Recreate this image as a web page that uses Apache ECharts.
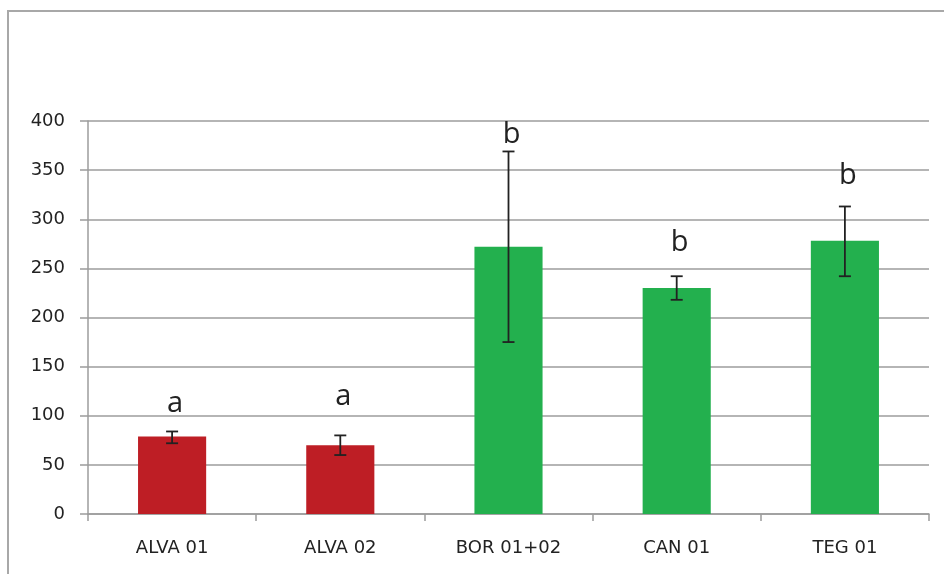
<!DOCTYPE html>
<html><head><meta charset="utf-8">
<script src="https://cdn.jsdelivr.net/npm/echarts@6/dist/echarts.min.js"></script>
<style>html,body{margin:0;padding:0;background:#fff;overflow:hidden}#c{width:944px;height:574px}</style>
</head><body><div id="c"></div>
<script>
const categories = ['ALVA 01','ALVA 02','BOR 01+02','CAN 01','TEG 01'];
const means = [79, 70, 272, 230, 278];
const errLow = [72, 60, 175, 218, 242];
const errHigh = [84, 80, 369, 242, 313];
const letters = ['a','a','b','b','b'];
const letterY = [112, 119, 386, 276, 344];
const yTicks = [0,50,100,150,200,250,300,350,400];
const barColors = ['#be1e25','#be1e25','#23b04e','#23b04e','#23b04e'];

const chart = echarts.init(document.getElementById('c'));
chart.setOption({
  animation:false,
  backgroundColor:'#fff',
  graphic:[{type:'polyline',shape:{points:[[8,574],[8,11],[944,11]]},style:{fill:'none',stroke:'#a8a8a8',lineWidth:2},z:-1}],
  grid:{left:88,right:15,top:121,bottom:60,containLabel:false},
  xAxis:{type:'category',data:categories,
    axisLine:{lineStyle:{color:'#9c9c9c',width:1.5}},
    axisTick:{show:true,alignWithLabel:false,length:7,lineStyle:{color:'#9c9c9c',width:1.5}},
    axisLabel:{color:'#222',fontFamily:'DejaVu Sans',fontSize:18,margin:25},
    splitLine:{show:false}},
  yAxis:{type:'value',min:yTicks[0],max:yTicks[yTicks.length-1],interval:50,
    axisLine:{show:true,lineStyle:{color:'#9c9c9c',width:1.5}},
    axisTick:{show:true,length:8,lineStyle:{color:'#9c9c9c',width:1.5}},
    axisLabel:{color:'#222',fontFamily:'DejaVu Sans',fontSize:18,margin:23},
    splitLine:{lineStyle:{color:'#9c9c9c',width:1.5}}},
  series:[
    {type:'bar',barWidth:'40.5%',
      data:means.map((v,i)=>({value:v,itemStyle:{color:barColors[i]}})),z:2},
    {type:'custom',z:5,
      data:means.map((v,i)=>[i,errLow[i],errHigh[i]]),
      renderItem:function(params,api){
        const x=api.value(0);
        const lo=api.coord([x,api.value(1)]);
        const hi=api.coord([x,api.value(2)]);
        const hw=6;
        const st={stroke:'#222',lineWidth:1.8};
        return {type:'group',children:[
          {type:'line',shape:{x1:lo[0],y1:lo[1],x2:hi[0],y2:hi[1]},style:st},
          {type:'line',shape:{x1:lo[0]-hw,y1:lo[1],x2:lo[0]+hw,y2:lo[1]},style:st},
          {type:'line',shape:{x1:hi[0]-hw,y1:hi[1],x2:hi[0]+hw,y2:hi[1]},style:st}
        ]};
      }},
    {type:'custom',z:6,
      data:letters.map((l,i)=>[i,letterY[i]]),
      renderItem:function(params,api){
        const p=api.coord([api.value(0),api.value(1)]);
        return {type:'text',x:p[0]+3,y:p[1],style:{text:letters[params.dataIndex],fill:'#222',
          font:'29px "Open Sans"',align:'center',verticalAlign:'middle'}};
      }}
  ]
});
</script></body></html>
